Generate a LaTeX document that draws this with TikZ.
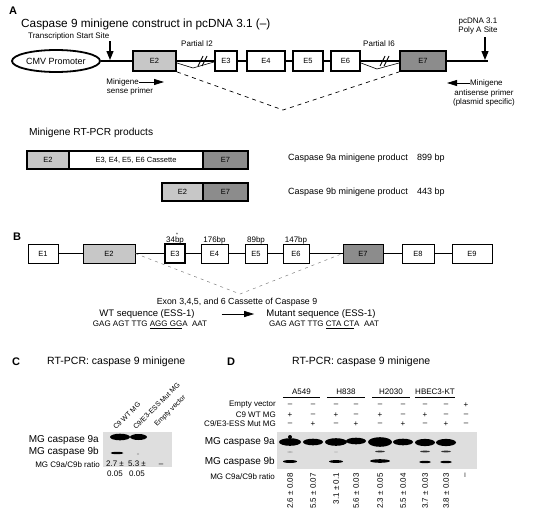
\documentclass[tikz,border=0pt]{standalone}
\usepackage{fontspec}
\setmainfont{Liberation Sans}
\usepackage{tikz}
\usetikzlibrary{shapes.geometric,arrows.meta}
\definecolor{lightex}{gray}{0.78}
\definecolor{darkex}{gray}{0.55}
\definecolor{gelgray}{gray}{0.87}
\pgfkeys{tikz/panellabel/.style={font=\bfseries\fontsize{11}{12}\selectfont, inner sep=0pt}}
\pgfkeys{tikz/titletext/.style={font=\fontsize{10.5}{12}\selectfont, inner sep=0pt}}
\pgfkeys{tikz/smalltext/.style={font=\fontsize{8}{9.5}\selectfont, inner sep=0pt, align=center}}
\pgfkeys{tikz/medtext/.style={font=\fontsize{9}{10}\selectfont, inner sep=0pt}}
\pgfkeys{tikz/bandlabel/.style={font=\fontsize{10}{11}\selectfont, inner sep=0pt, anchor=east}}
\pgfkeys{tikz/exonA/.style={draw, line width=1.8pt, minimum height=20pt, inner sep=0pt,
                                 font=\fontsize{7.5}{8}\selectfont}}
\pgfkeys{tikz/exonB/.style={draw, line width=0.8pt, minimum height=19pt, inner sep=0pt,
                                 font=\fontsize{7.5}{8}\selectfont}}
\pgfkeys{tikz/prodbox/.style={draw, line width=1.8pt, minimum height=18pt, inner sep=0pt,
                                 font=\fontsize{7.5}{8}\selectfont}}
\pgfkeys{tikz/thickline/.style={line width=1.8pt}}
\pgfkeys{tikz/thinline/.style={line width=0.8pt}}
\pgfkeys{tikz/downarrow/.style={line width=1.2pt, -{Triangle[width=7pt,length=9pt]}}}
\pgfkeys{tikz/primerarrow/.style={line width=0.8pt, -{Triangle[width=6pt,length=10pt]}}}
\pgfkeys{tikz/collabel/.style={font=\fontsize{7}{8}\selectfont, inner sep=0pt, anchor=base west, rotate=45}}
\pgfkeys{tikz/sign/.style={font=\fontsize{8}{9}\selectfont, inner sep=0pt}}
\pgfkeys{tikz/ratio/.style={font=\fontsize{8}{9}\selectfont, inner sep=0pt, anchor=east, rotate=90}}

\begin{document}
\begin{tikzpicture}[x=1pt,y=-1pt]
\useasboundingbox (0,0) rectangle (540,514);

            \node[panellabel] (labA) at (13,11) {A};
            \node[titletext, font=\fontsize{11.8}{13}\selectfont, anchor=west] (titA) at (21,24) {Caspase 9 minigene construct in pcDNA 3.1 (–)};
            \node[smalltext, anchor=west] (tss) at (28,36) {Transcription Start Site};
            \node[smalltext] (polyA) at (478,26) {pcDNA 3.1\\Poly A Site};
            \node[smalltext] (partI2) at (197,44) {Partial I2};
            \node[smalltext] (partI6) at (379,44) {Partial I6};

            \node[ellipse, draw, line width=1.8pt, minimum width=88pt, minimum height=22pt,
                  inner sep=0pt, font=\fontsize{9}{10}\selectfont] (cmv) at (56,61) {CMV Promoter};
            \node[exonA, fill=lightex, minimum width=43pt] (aE2) at (154.5,61) {E2};
            \node[exonA, minimum width=22pt] (aE3) at (226,61) {E3};
            \node[exonA, minimum width=38pt] (aE4) at (266,61) {E4};
            \node[exonA, minimum width=30pt] (aE5) at (308,61) {E5};
            \node[exonA, minimum width=29pt] (aE6) at (345.5,61) {E6};
            \node[exonA, fill=darkex, minimum width=46pt] (aE7) at (423,61) {E7};
            \coordinate (aEnd) at (488,61);

                    \draw[thickline] (cmv) -- (aE2);
                    \draw[thickline] (aE2) -- (aE3);
                    \draw[thickline] (aE3) -- (aE4);
                    \draw[thickline] (aE4) -- (aE5);
                    \draw[thickline] (aE5) -- (aE6);
                    \draw[thickline] (aE6) -- (aE7);
                    \draw[thickline] (aE7) -- (aEnd);

                    \draw[line width=0.9pt] (198,66) -- (203,56) (202,66) -- (207,56);
                    \draw[line width=0.9pt] (380,66) -- (385,56) (384,66) -- (389,56);
                    \draw[line width=0.6pt] (177,63) -- (193,68) -- (214,62);
                    \draw[line width=0.6pt] (361,63) -- (377,69) -- (399,63);

            \coordinate (tssTop) at (110,41);
            \coordinate (tssTip) at (110,60);
            \coordinate (polyTop) at (485,37);
            \coordinate (polyTip) at (485,60);
                    \draw[downarrow] (tssTop) -- (tssTip);
                    \draw[downarrow] (polyTop) -- (polyTip);

            \coordinate (aV) at (283,110);
                    \draw[line width=0.7pt, dash pattern=on 4pt off 4pt] (aE2.south east) -- (aV) -- (aE7.south west);

            \node[smalltext, anchor=east] (sense1) at (139,82) {Minigene};
            \node[smalltext] (sense2) at (130,91.5) {sense primer};
            \coordinate (senseTip) at (164,82);
                    \draw[primerarrow] (sense1) -- (senseTip);
            \node[smalltext, anchor=west] (anti1) at (470,83) {Minigene};
            \node[smalltext] (anti2) at (484,98) {antisense primer\\(plasmid specific)};
            \coordinate (antiTip) at (447,83);
                    \draw[primerarrow] (anti1) -- (antiTip);

            \node[titletext, font=\fontsize{10.2}{11}\selectfont, anchor=west] (prodT) at (29,133) {Minigene RT-PCR products};
            \node[prodbox, fill=lightex, minimum width=42pt] (pa2) at (48,160) {E2};
            \node[prodbox, fill=white, minimum width=134pt] (pacas) at (136,160) {E3, E4, E5, E6 Cassette};
            \node[prodbox, fill=darkex, minimum width=45pt] (pa7) at (225.5,160) {E7};
            \node[prodbox, fill=lightex, minimum width=41pt] (pb2) at (182.5,192) {E2};
            \node[prodbox, fill=darkex, minimum width=45pt] (pb7) at (225.5,192) {E7};
            \node[medtext, anchor=west] (paName) at (288,158) {Caspase 9a minigene product};
            \node[medtext, anchor=west] (paSize) at (417,158) {899 bp};
            \node[medtext, anchor=west] (pbName) at (288,192) {Caspase 9b minigene product};
            \node[medtext, anchor=west] (pbSize) at (417,192) {443 bp};

            \node[panellabel] (labB) at (17,237) {B};
            \node[exonB, minimum width=30pt] (bE1) at (43,253.5) {E1};
            \node[exonB, fill=lightex, minimum width=52pt] (bE2) at (109,253.5) {E2};
            \node[exonB, line width=2pt, minimum width=20pt] (bE3) at (175,253.5) {E3};
            \node[exonB, minimum width=27pt] (bE4) at (214.5,253.5) {E4};
            \node[exonB, minimum width=22pt] (bE5) at (256,253.5) {E5};
            \node[exonB, minimum width=26pt] (bE6) at (296,253.5) {E6};
            \node[exonB, fill=darkex, minimum width=40pt] (bE7) at (363,253.5) {E7};
            \node[exonB, minimum width=32pt] (bE8) at (418,253.5) {E8};
            \node[exonB, minimum width=40pt] (bE9) at (472,253.5) {E9};

                    \draw[thinline] (bE1) -- (bE2);
                    \draw[thinline] (bE2) -- (bE3);
                    \draw[thinline] (bE3) -- (bE4);
                    \draw[thinline] (bE4) -- (bE5);
                    \draw[thinline] (bE5) -- (bE6);
                    \draw[thinline] (bE6) -- (bE7);
                    \draw[thinline] (bE7) -- (bE8);
                    \draw[thinline] (bE8) -- (bE9);

            \node[smalltext] (bp3) at (175,240) {34bp};
            \node[font=\fontsize{5}{5}\selectfont, inner sep=0pt] (star) at (177,235) {*};
            \node[smalltext] (bp4) at (214.5,240) {176bp};
            \node[smalltext] (bp5) at (256,240) {89bp};
            \node[smalltext] (bp6) at (296,240) {147bp};

            \coordinate (bV) at (240,294);
                    \draw[gray, line width=0.5pt, dash pattern=on 3pt off 4pt] (bE2.east) -- (bV) -- (bE7.west);

            \node[smalltext, font=\fontsize{8.8}{10}\selectfont] (cass) at (237,302) {Exon 3,4,5, and 6 Cassette of Caspase 9};
            \node[font=\fontsize{9.5}{10}\selectfont, inner sep=0pt] (wtT) at (147,314) {WT sequence (ESS-1)};
            \node[smalltext] (wtS) at (150,324.5) {GAG AGT TTG \underline{AGG GG}A\ \ AAT};
            \node[font=\fontsize{9.5}{10}\selectfont, inner sep=0pt] (mutT) at (321,314) {Mutant sequence (ESS-1)};
            \node[smalltext] (mutS) at (324,324.5) {GAG AGT TTG \underline{CTA CT}A\ \ AAT};
                    \draw[primerarrow, shorten <=27pt, shorten >=12pt] (wtT) -- (mutT);

            \node[panellabel] (labC) at (16,362) {C};
            \node[titletext, anchor=west] (titC) at (47,362) {RT-PCR: caspase 9 minigene};
            \node[collabel] (cl1) at (116,430) {C9 WT MG};
            \node[collabel] (cl2) at (136,430) {C9/E3-ESS Mut MG};
            \node[collabel] (cl3) at (157,427) {Empty vector};
            \node[fill=gelgray, minimum width=69pt, minimum height=35pt, inner sep=0pt] (gelC) at (137.5,449.5) {};
                    \fill (120,437) ellipse [x radius=10pt, y radius=3.3pt];
                    \fill (138.5,437) ellipse [x radius=8.5pt, y radius=3pt];
                    \fill (117,453) ellipse [x radius=6.5pt, y radius=1.2pt];
                    \fill[gray!80] (138,454) ellipse [x radius=1.2pt, y radius=0.7pt];
            \node[bandlabel] (c9a) at (99,440) {MG caspase 9a};
            \node[bandlabel] (c9b) at (99,452) {MG caspase 9b};
            \node[smalltext, anchor=east] (cRat) at (100,465) {MG C9a/C9b ratio};
            \node[smalltext, anchor=north] (cv1) at (115,461) {2.7 ±\\0.05};
            \node[smalltext, anchor=north] (cv2) at (137,461) {5.3 ±\\0.05};
            \node[smalltext] (cv3) at (161,465) {–};

            \node[panellabel] (labD) at (231,362) {D};
            \node[titletext, anchor=west] (titD) at (292,362) {RT-PCR: caspase 9 minigene};
            \node[smalltext, minimum width=37pt, minimum height=11pt] (gA) at (301.5,392) {A549};
            \node[smalltext, minimum width=38pt, minimum height=11pt] (gB) at (346,392) {H838};
            \node[smalltext, minimum width=38pt, minimum height=11pt] (gC) at (391,392) {H2030};
            \node[smalltext, minimum width=40pt, minimum height=11pt] (gD) at (435,392) {HBEC3-KT};
                    \draw[line width=0.6pt] (gA.south west) -- (gA.south east);
                    \draw[line width=0.6pt] (gB.south west) -- (gB.south east);
                    \draw[line width=0.6pt] (gC.south west) -- (gC.south east);
                    \draw[line width=0.6pt] (gD.south west) -- (gD.south east);

            \node[smalltext, anchor=east] (rEmpty) at (276,405) {Empty vector};
            \node[smalltext, anchor=east] (rWT) at (276,415) {C9 WT MG};
            \node[smalltext, anchor=east] (rMut) at (276,424) {C9/E3-ESS Mut MG};

            \node[sign] (e1) at (290,405) {–};
            \node[sign] (e2) at (313,405) {–};
            \node[sign] (e3) at (336,405) {–};
            \node[sign] (e4) at (356,405) {–};
            \node[sign] (e5) at (380,405) {–};
            \node[sign] (e6) at (403,405) {–};
            \node[sign] (e7) at (425,405) {–};
            \node[sign] (e8) at (446,405) {–};
            \node[sign] (e9) at (466,405) {+};

            \node[sign] (w1) at (290,415) {+};
            \node[sign] (w2) at (313,415) {–};
            \node[sign] (w3) at (336,415) {+};
            \node[sign] (w4) at (356,415) {–};
            \node[sign] (w5) at (380,415) {+};
            \node[sign] (w6) at (403,415) {–};
            \node[sign] (w7) at (425,415) {+};
            \node[sign] (w8) at (446,415) {–};
            \node[sign] (w9) at (466,415) {–};

            \node[sign] (m1) at (290,424) {–};
            \node[sign] (m2) at (313,424) {+};
            \node[sign] (m3) at (336,424) {–};
            \node[sign] (m4) at (356,424) {+};
            \node[sign] (m5) at (380,424) {–};
            \node[sign] (m6) at (403,424) {+};
            \node[sign] (m7) at (425,424) {–};
            \node[sign] (m8) at (446,424) {+};
            \node[sign] (m9) at (466,424) {–};

            \node[fill=gelgray, minimum width=200pt, minimum height=37pt, inner sep=0pt] (gelD) at (377,450.5) {};
                    \fill (290,442) ellipse [x radius=11pt, y radius=3.8pt];
                    \fill (290,437) ellipse [x radius=2pt, y radius=2pt];
                    \fill (313,442) ellipse [x radius=10pt, y radius=3.3pt];
                    \fill (336,442) ellipse [x radius=11pt, y radius=3.8pt];
                    \fill (356,441) ellipse [x radius=10pt, y radius=3.3pt];
                    \fill (380,442) ellipse [x radius=12pt, y radius=4.8pt];
                    \fill (403,442) ellipse [x radius=10pt, y radius=3.3pt];
                    \fill (425,442.5) ellipse [x radius=10pt, y radius=3.6pt];
                    \fill (446,442.5) ellipse [x radius=10pt, y radius=3.6pt];

                    \fill[gray!70] (290,452) ellipse [x radius=3pt, y radius=0.6pt];
                    \fill[gray!60] (336,452) ellipse [x radius=2pt, y radius=0.5pt];
                    \fill[black!80] (380,451.5) ellipse [x radius=5pt, y radius=0.9pt];
                    \fill[black!80] (425,451.5) ellipse [x radius=5pt, y radius=0.9pt];
                    \fill[black!80] (446,451.5) ellipse [x radius=5pt, y radius=0.9pt];

                    \fill (290,461.5) ellipse [x radius=7pt, y radius=1.5pt];
                    \fill (336,461.5) ellipse [x radius=7pt, y radius=1.4pt];
                    \fill (380,461) ellipse [x radius=10pt, y radius=1.8pt];
                    \fill (425,462) ellipse [x radius=6pt, y radius=1.2pt];
                    \fill (446,462) ellipse [x radius=6pt, y radius=1.2pt];

            \node[bandlabel] (d9a) at (275,442) {MG caspase 9a};
            \node[bandlabel] (d9b) at (275,462) {MG caspase 9b};
            \node[smalltext, anchor=east] (dRat) at (275,477) {MG C9a/C9b ratio};

            \node[ratio] (r1) at (290,473) {2.6 ± 0.08};
            \node[ratio] (r2) at (313,473) {5.5 ± 0.07};
            \node[ratio] (r3) at (336,473) {3.1 ± 0.1};
            \node[ratio] (r4) at (356,473) {5.6 ± 0.03};
            \node[ratio] (r5) at (380,473) {2.3 ± 0.05};
            \node[ratio] (r6) at (403,473) {5.5 ± 0.04};
            \node[ratio] (r7) at (425,473) {3.7 ± 0.03};
            \node[ratio] (r8) at (446,473) {3.8 ± 0.03};
            \node[ratio] (r9) at (466,473) {–};
\end{tikzpicture}
\end{document}
